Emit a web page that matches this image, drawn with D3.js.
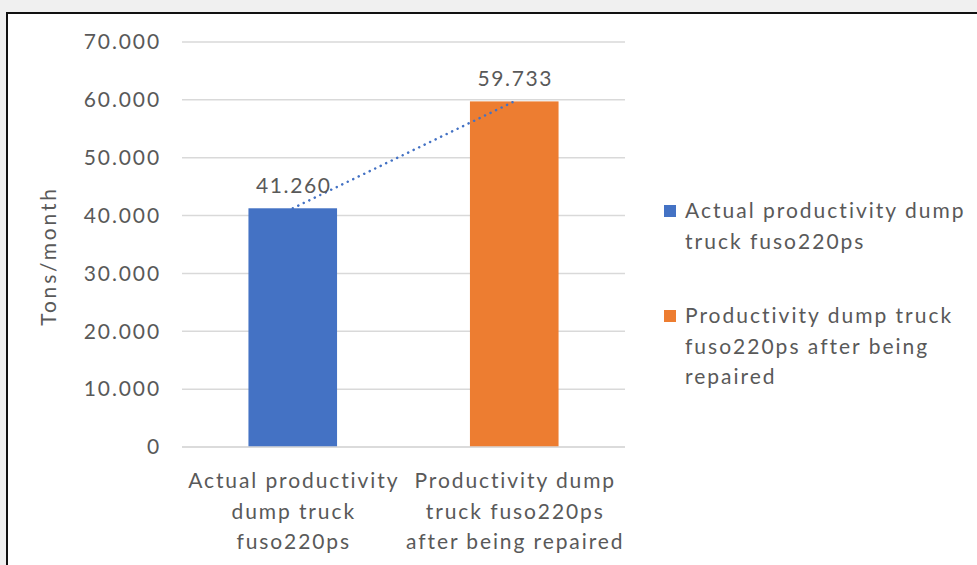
<!DOCTYPE html>
<html>
<head>
<meta charset="utf-8">
<script src="https://cdn.jsdelivr.net/npm/d3@7"></script>
<style>
  html, body { margin: 0; padding: 0; background: #f0f0f0; }
  svg { display: block; }
  text { font-family: Lato, "Noto Sans", sans-serif; fill: #595959; }
</style>
</head>
<body>
<svg id="chart" width="977" height="565"></svg>
<script>
// chart data
const categories = ["Actual productivity dump truck fuso220ps", "Productivity dump truck fuso220ps after being repaired"];
const values = [41.260, 59.733];
const colors = ["#4472C4", "#ED7D31"];
const tickValues = [0, 10, 20, 30, 40, 50, 60, 70];
const tickLabels = ["0", "10.000", "20.000", "30.000", "40.000", "50.000", "60.000", "70.000"];
const axisLabels = [["Actual productivity", "dump truck", "fuso220ps"], ["Productivity dump", "truck fuso220ps", "after being repaired"]];
const legendLines = [["Actual productivity dump", "truck fuso220ps"], ["Productivity dump truck", "fuso220ps after being", "repaired"]];
const yTitle = "Tons/month";

const svg = d3.select("#chart");

// white chart area with dark frame
svg.append("rect")
  .attr("x", 7).attr("y", 13)
  .attr("width", 1000).attr("height", 600)
  .attr("fill", "#fff")
  .attr("stroke", "#111")
  .attr("stroke-width", 2);

const plot = { left: 182, right: 625, top: 42, bottom: 447 };

const x = d3.scaleBand()
  .domain(categories)
  .range([plot.left, plot.right])
  .paddingInner(0.6)
  .paddingOuter(0.3);

const y = d3.scaleLinear()
  .domain([0, 70])
  .range([plot.bottom, plot.top]);

// gridlines
svg.append("g")
  .selectAll("line")
  .data(tickValues)
  .enter()
  .append("line")
  .attr("x1", plot.left).attr("x2", plot.right)
  .attr("y1", d => y(d)).attr("y2", d => y(d))
  .attr("stroke", "#d9d9d9")
  .attr("stroke-width", 1.5);

// y axis labels
const yAxis = svg.append("g")
  .attr("transform", "translate(" + (plot.left - 12) + ",0)")
  .call(d3.axisLeft(y).tickValues(tickValues).tickSize(0).tickPadding(9)
    .tickFormat((d, i) => tickLabels[i]));
yAxis.select(".domain").remove();
yAxis.selectAll("text")
  .style("font-size", "21px")
  .style("letter-spacing", "1.9px")
  .attr("fill", "#595959");

// y title
svg.append("text")
  .attr("transform", "translate(56,256) rotate(-90)")
  .attr("text-anchor", "middle")
  .style("font-size", "21px")
  .style("letter-spacing", "2.8px")
  .text(yTitle);

// bars
svg.append("g")
  .selectAll("rect")
  .data(values)
  .enter()
  .append("rect")
  .attr("x", (d, i) => x(categories[i]))
  .attr("y", d => y(d))
  .attr("width", x.bandwidth())
  .attr("height", d => y(0) - y(d))
  .attr("fill", (d, i) => colors[i]);

// baseline redrawn over bars
svg.append("line")
  .attr("x1", plot.left).attr("x2", plot.right)
  .attr("y1", y(0)).attr("y2", y(0))
  .attr("stroke", "#d9d9d9")
  .attr("stroke-width", 1.5);

// dotted linear trendline
const line = d3.line()
  .x((d, i) => x(categories[i]) + x.bandwidth() / 2)
  .y(d => y(d));
svg.append("path")
  .datum(values)
  .attr("d", line)
  .attr("fill", "none")
  .attr("stroke", "#4472C4")
  .attr("stroke-width", 2.5)
  .attr("stroke-linecap", "round")
  .attr("stroke-dasharray", "0.1 6");

// data labels
svg.append("g")
  .selectAll("text")
  .data(values)
  .enter()
  .append("text")
  .attr("x", (d, i) => x(categories[i]) + x.bandwidth() / 2 + 1)
  .attr("y", d => y(d) - 15)
  .attr("text-anchor", "middle")
  .style("font-size", "21px")
  .style("letter-spacing", "1.6px")
  .attr("fill", "#404040")
  .text(d => d.toFixed(3));

// category labels
const cat = svg.append("g")
  .selectAll("text")
  .data(axisLabels)
  .enter()
  .append("text")
  .attr("x", (d, i) => x(categories[i]) + x.bandwidth() / 2 + 1)
  .attr("y", 488)
  .attr("text-anchor", "middle")
  .style("font-size", "21px")
  .style("letter-spacing", "1.9px");
cat.selectAll("tspan")
  .data(d => d)
  .enter()
  .append("tspan")
  .attr("x", function () { return this.parentNode.getAttribute("x"); })
  .attr("dy", (d, i) => i === 0 ? 0 : 30.5)
  .text(d => d);

// legend
const leg = svg.append("g")
  .selectAll("g")
  .data(legendLines)
  .enter()
  .append("g")
  .attr("transform", (d, i) => "translate(664," + (i === 0 ? 205 : 310) + ")");
leg.append("rect")
  .attr("width", 12).attr("height", 12)
  .attr("fill", (d, i) => colors[i]);
const legText = leg.append("text")
  .attr("x", 21)
  .attr("y", 13)
  .style("font-size", "21px")
  .style("letter-spacing", "2px");
legText.selectAll("tspan")
  .data(d => d)
  .enter()
  .append("tspan")
  .attr("x", 21)
  .attr("dy", (d, i) => i === 0 ? 0 : 30.5)
  .text(d => d);
</script>
</body>
</html>
